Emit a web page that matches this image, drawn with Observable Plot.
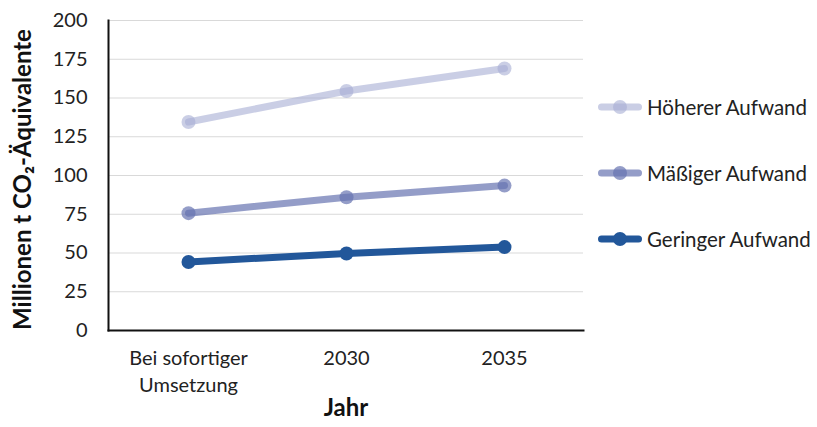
<!DOCTYPE html>
<html><head><meta charset="utf-8">
<script src="https://cdn.jsdelivr.net/npm/d3@7"></script>
<script src="https://cdn.jsdelivr.net/npm/@observablehq/plot@0.6"></script>
<style>
body{margin:0;background:#fff;font-family:Lato,"Open Sans",sans-serif;}
#wrap{position:relative;width:817px;height:427px;}
#legend{position:absolute;left:597px;top:0;}
.item{position:absolute;display:flex;align-items:center;white-space:nowrap;font-size:20.5px;line-height:24px;color:#222;}
.item svg{margin-right:4px;display:block;}
</style></head>
<body><div id="wrap"><div id="legend"></div></div>
<script>
const categories = ["Bei sofortiger\nUmsetzung", "2030", "2035"];
const series = ["Höherer Aufwand", "Mäßiger Aufwand", "Geringer Aufwand"];
const hoeher = [134.5, 154.5, 169];
const maessig = [75.7, 86, 93.5];
const gering = [44.2, 49.7, 53.8];
const colors = ["#a7aed4", "#6674b0", "#22579a"];
const opac = [0.6, 0.7, 1];
const yTicks = [0, 25, 50, 75, 100, 125, 150, 175, 200];

const values = [hoeher, maessig, gering];
const data = [];
series.forEach((s, i) => categories.forEach((c, j) => data.push({series: s, cat: c, value: values[i][j]})));

const marks = [
  Plot.gridY(yTicks, {stroke: "#d9d9d9", strokeOpacity: 1, strokeWidth: 1.2}),
  Plot.axisY(yTicks, {tickSize: 0, tickPadding: 21, fontSize: 20, fill: "#222", label: null}),
  Plot.axisX({tickSize: 0, tickPadding: 15, fontSize: 20, fill: "#222", label: null, lineHeight: 1.35})
];
series.forEach((s, i) => {
  const d = data.filter(r => r.series === s);
  marks.push(Plot.line(d, {x: "cat", y: "value", stroke: colors[i], strokeWidth: 7, strokeOpacity: opac[i], strokeLinecap: "round"}));
  marks.push(Plot.dot(d, {x: "cat", y: "value", r: 7, fill: colors[i], fillOpacity: opac[i], stroke: "none"}));
});
marks.push(Plot.frame({anchor: "left", stroke: "#111", strokeWidth: 2}));
marks.push(Plot.frame({anchor: "bottom", stroke: "#111", strokeWidth: 2}));
marks.push(Plot.text(["Millionen t CO₂-Äquivalente"], {frameAnchor: "left", textAnchor: "middle", rotate: -90, dx: -85, dy: 4, fontSize: 24, fontWeight: "bold", fill: "#111"}));
marks.push(Plot.text(["Jahr"], {frameAnchor: "bottom", dy: 85, fontSize: 24, fontWeight: "bold", fill: "#111"}));

const chart = Plot.plot({
  width: 817, height: 427,
  marginLeft: 108, marginRight: 234, marginTop: 20, marginBottom: 97,
  style: {fontFamily: "Lato, 'Open Sans', sans-serif", background: "#fff", overflow: "visible"},
  x: {type: "point", domain: categories, padding: 0.5},
  y: {domain: [0, 200]},
  marks
});
document.getElementById("wrap").prepend(chart);

const centers = [107, 173, 239];
const leg = document.getElementById("legend");
series.forEach((s, i) => {
  const el = document.createElement("div");
  el.className = "item";
  el.style.top = (centers[i] - 12) + "px";
  el.innerHTML = `<svg width="46" height="24"><line x1="4.5" x2="41.5" y1="12" y2="12" stroke="${colors[i]}" stroke-opacity="${opac[i]}" stroke-width="7" stroke-linecap="round"/><circle cx="23" cy="12" r="7" fill="${colors[i]}" fill-opacity="${opac[i]}"/></svg><span>${s}</span>`;
  leg.appendChild(el);
});
</script></body></html>
